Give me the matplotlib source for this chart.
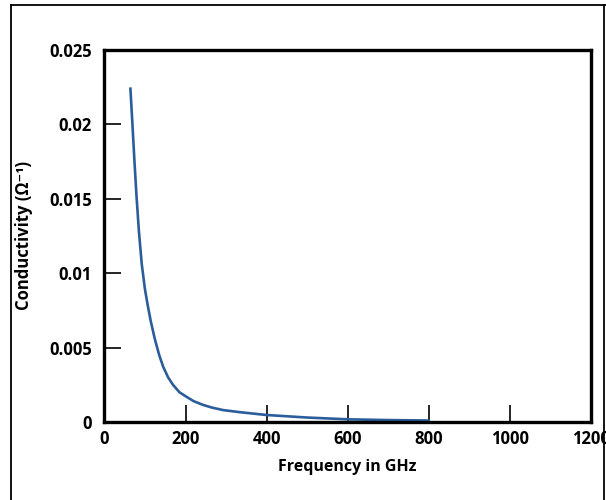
#recreate conductivity vs frequency chart

import matplotlib.pyplot as plt
from matplotlib.lines import Line2D

# values
freq_ghz = [64, 69, 74, 79, 85, 92, 100, 107, 114, 124, 135, 145, 157, 169, 185, 202, 220, 243, 265, 293, 334, 400, 500, 600, 700, 800]
conductivity = [0.0224, 0.0200, 0.0175, 0.0152, 0.0128, 0.0106, 0.0089, 0.0078, 0.0068, 0.0056, 0.0045, 0.0037, 0.0030, 0.0025,
                0.0020, 0.0017, 0.0014, 0.00115, 0.00097, 0.0008, 0.00066, 0.00047, 0.0003, 0.00018, 0.00013, 0.0001]
x_ticks = [0, 200, 400, 600, 800, 1000, 1200]
y_ticks = [0, 0.005, 0.01, 0.015, 0.02, 0.025]
y_tick_labels = ['0', '0.005', '0.01', '0.015', '0.02', '0.025']

plt.rcParams['font.family'] = ['Open Sans', 'DejaVu Sans']
plt.rcParams['font.weight'] = 'bold'

fig = plt.figure(figsize=(6.06, 5), dpi=100)
ax = fig.add_axes([0.1724, 0.156, 0.8026, 0.744])

ax.plot(freq_ghz, conductivity, color='#2b5d9b', linewidth=1.9)

ax.set_xlim(0, 1200)
ax.set_ylim(0, 0.025)
ax.set_xticks(x_ticks)
ax.set_xticklabels([str(v) for v in x_ticks])
ax.set_yticks(y_ticks)
ax.set_yticklabels(y_tick_labels)

for s in ax.spines.values():
    s.set_linewidth(2.4)
ax.tick_params(direction='in', length=12, width=1.2, labelsize=12, color='black')
ax.tick_params(axis='x', pad=6)
ax.tick_params(axis='y', pad=9)
for lbl in ax.get_xticklabels() + ax.get_yticklabels():
    lbl.set_fontweight('bold')

ax.set_xlabel('Frequency in GHz', fontsize=11.5, fontweight='bold', labelpad=8)
ax.set_ylabel('Conductivity (Ω⁻¹)', fontsize=12, fontweight='bold', labelpad=12)

# thin frame round the picture (no bottom edge)
fig.add_artist(Line2D([11 / 606, 11 / 606], [0, 1 - 5 / 500], color='black', linewidth=1.3))
fig.add_artist(Line2D([11 / 606, 1], [1 - 5 / 500, 1 - 5 / 500], color='black', linewidth=1.3))
fig.add_artist(Line2D([604 / 606, 604 / 606], [0, 1 - 5 / 500], color='black', linewidth=1.3))

fig.savefig('out.png', dpi=100)
